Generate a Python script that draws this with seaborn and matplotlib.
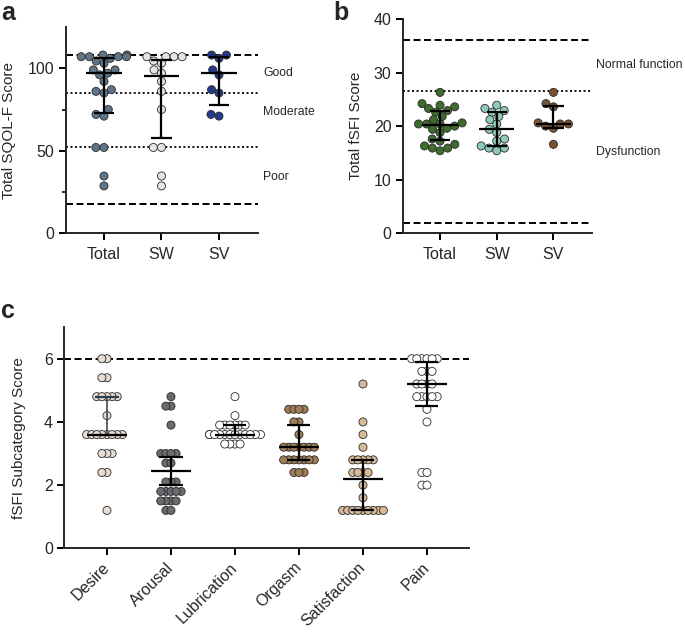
"""Prism-style scatter dot plots (median with IQR) of SQOL-F and fSFI scores."""

import matplotlib

matplotlib.use("Agg")
import matplotlib.pyplot as plt
import matplotlib.transforms as mtransforms
import numpy as np
import pandas as pd
import seaborn as sns

# ---------------- panel a: SQOL-F ----------------
groups = ["Total", "SW", "SV"]
sqol_total = [108, 108, 107, 107, 107, 107, 106, 104.4, 103, 99, 99, 97,
              96, 92, 87, 86, 85, 75, 72, 71, 52, 52, 34.7, 28.7]
sqol_sw = [107, 107, 107, 107, 104.4, 103, 99, 97, 92, 86, 75, 52, 52, 34.7, 28.7]
sqol_sv = [108, 108, 106, 99, 96, 87, 85, 72, 71]
sqol_median = [97, 95, 97]
sqol_q1 = [73, 58, 78]
sqol_q3 = [106, 105, 107]
sqol_colors = ["#5e7488", "#e4e4e0", "#26388c"]

# ---------------- panel b: total fSFI ----------------
fsfi_total = [26.3, 24.2, 23.9, 23.6, 23.3, 22.9, 22.6, 21.8, 21.2, 20.6, 20.4, 20.4,
              20.4, 20.0, 19.6, 19.4, 18.8, 17.6, 17.2, 16.6, 16.3, 15.9, 15.9, 15.4]
fsfi_sw = [23.9, 23.3, 22.9, 22.6, 21.8, 21.2, 20.4, 19.4, 18.8, 17.6, 17.2, 16.3,
           15.9, 15.9, 15.4]
fsfi_sv = [26.3, 24.2, 23.6, 20.6, 20.4, 20.4, 20.0, 19.6, 16.6]
fsfi_median = [20.3, 19.4, 20.4]
fsfi_q1 = [17.5, 16.3, 19.6]
fsfi_q3 = [22.8, 22.7, 23.7]
fsfi_colors = ["#3f6b2d", "#8ecbbd", "#7b5331"]

# ---------------- panel c: fSFI domains ----------------
domains = ["Desire", "Arousal", "Lubrication", "Orgasm", "Satisfaction", "Pain"]
desire = [6.0, 6.0, 5.4, 5.4, 4.8, 4.8, 4.8, 4.8, 4.8, 4.2, 3.6, 3.6, 3.6, 3.6,
          3.6, 3.6, 3.6, 3.6, 3.0, 3.0, 3.0, 2.4, 2.4, 1.2]
arousal = [4.8, 4.5, 4.5, 3.9, 3.0, 3.0, 3.0, 3.0, 2.7, 2.7, 2.1, 2.1, 2.1, 1.8,
           1.8, 1.8, 1.8, 1.8, 1.5, 1.5, 1.5, 1.5, 1.2, 1.2]
lubrication = [4.8, 4.2, 3.9, 3.9, 3.9, 3.9, 3.9, 3.9, 3.6, 3.6, 3.6, 3.6, 3.6,
               3.6, 3.6, 3.6, 3.6, 3.6, 3.6, 3.6, 3.3, 3.3, 3.3, 3.3]
orgasm = [4.4, 4.4, 4.4, 4.4, 4.0, 4.0, 3.6, 3.2, 3.2, 3.2, 3.2, 3.2, 3.2, 3.2,
          2.8, 2.8, 2.8, 2.8, 2.8, 2.8, 2.8, 2.4, 2.4, 2.4]
satisfaction = [5.2, 4.0, 3.6, 3.2, 2.8, 2.8, 2.8, 2.8, 2.8, 2.4, 2.4, 2.4, 2.4,
                2.0, 1.6, 1.2, 1.2, 1.2, 1.2, 1.2, 1.2, 1.2, 1.2, 1.2]
pain = [6.0, 6.0, 6.0, 6.0, 6.0, 6.0, 5.6, 5.6, 5.6, 5.2, 5.2, 5.2, 5.2, 4.8,
        4.8, 4.8, 4.8, 4.8, 4.4, 4.0, 2.4, 2.4, 2.0, 2.0]
domain_median = [3.6, 2.45, 3.6, 3.2, 2.2, 5.2]
domain_q1 = [3.6, 2.0, 3.6, 2.8, 1.2, 4.5]
domain_q3 = [4.8, 2.9, 3.9, 3.9, 2.8, 5.9]
domain_colors = ["#e7dcd1", "#6a6b6f", "#ffffff", "#9e7c56", "#d6ba97", "#ffffff"]
domain_bar_colors = ["#2e3d50", "black", "black", "black", "black", "black"]

MARKER = 5.8  # marker diameter in points

sns.set_style("ticks")
plt.rcParams["font.family"] = ["Liberation Sans", "DejaVu Sans"]
plt.rcParams["axes.linewidth"] = 1.4


def draw_panel(ax, cats, values, colors, med, q1, q3, layout, bar_colors=None):
    df = pd.DataFrame({
        "group": np.repeat(cats, [len(v) for v in values]),
        "score": np.concatenate(values),
    })
    # layout diameter may be smaller than the drawn one -> Prism-like overlap
    sns.swarmplot(data=df, x="group", y="score", hue="group", order=cats,
                  hue_order=cats, palette=colors, size=layout, edgecolor="#2a2a2a",
                  linewidth=0.6, legend=False, ax=ax, zorder=3, warn_thresh=1)
    bar_colors = bar_colors or ["black"] * len(cats)
    for i, cat in enumerate(cats):
        c = bar_colors[i]
        lw_v = 1.1 if c != "black" else 1.6
        ax.vlines(i, q1[i], q3[i], color=c, lw=lw_v, zorder=4)
        ax.hlines([q1[i], q3[i]], i - 0.18, i + 0.18, color=c, lw=1.6, zorder=4)
        ax.hlines(med[i], i - 0.31, i + 0.31, color="black", lw=1.6, zorder=4)
    ax.set_xlabel("")
    sns.despine(ax=ax)
    ax.tick_params(axis="both", length=5, width=1.4, labelsize=11.5, color="black")
    ax.tick_params(axis="x", pad=5)
    ax.tick_params(axis="y", pad=3)


def ref_line(ax, y, style):
    if style == "dash":
        ax.axhline(y, color="black", lw=1.4, ls=(0, (3.6, 1.8)), zorder=1)
    else:
        ax.axhline(y, color="black", lw=1.3, ls=(0, (1.1, 1.4)), zorder=1)


fig = plt.figure(figsize=(6.85, 6.32), dpi=100)
ax_a = fig.add_axes([0.0959, 0.6309, 0.2807, 0.3264])
ax_b = fig.add_axes([0.5879, 0.6309, 0.2759, 0.3391])
ax_c = fig.add_axes([0.0934, 0.1324, 0.5912, 0.3500])

# panel a
draw_panel(ax_a, groups, [sqol_total, sqol_sw, sqol_sv], sqol_colors,
           sqol_median, sqol_q1, sqol_q3, layout=5.0)
ax_a.set_ylim(0, 125)
ax_a.set_xlim(-0.666, 2.678)
ax_a.set_yticks([0, 50, 100])
ax_a.set_yticks([25, 75], minor=True)
ax_a.tick_params(axis="y", which="minor", length=3, width=1.4)
for y, st in [(108, "dash"), (18, "dash"), (85, "dot"), (52, "dot")]:
    ref_line(ax_a, y, st)
for y, t in [(97.3, "Good"), (73.3, "Moderate"), (34.3, "Poor")]:
    ax_a.text(1.028, y, t, transform=ax_a.get_yaxis_transform(), fontsize=8.8,
              va="center", ha="left")
ax_a.set_ylabel("Total SQOL-F Score", fontsize=11)
ax_a.yaxis.set_label_coords(-0.258, 0.5)

# panel b
draw_panel(ax_b, groups, [fsfi_total, fsfi_sw, fsfi_sv], fsfi_colors,
           fsfi_median, fsfi_q1, fsfi_q3, layout=5.0)
ax_b.set_ylim(0, 40)
ax_b.set_xlim(-0.658, 2.675)
ax_b.set_yticks([0, 10, 20, 30, 40])
for y, st in [(36, "dash"), (2, "dash"), (26.55, "dot")]:
    ref_line(ax_b, y, st)
for y, t in [(31.4, "Normal function"), (15.2, "Dysfunction")]:
    ax_b.text(1.023, y, t, transform=ax_b.get_yaxis_transform(), fontsize=8.8,
              va="center", ha="left")
ax_b.set_ylabel("Total fSFI Score", fontsize=11)
ax_b.yaxis.set_label_coords(-0.21, 0.5)

# panel c
draw_panel(ax_c, domains, [desire, arousal, lubrication, orgasm, satisfaction, pain],
           domain_colors, domain_median, domain_q1, domain_q3, layout=2.9,
           bar_colors=domain_bar_colors)
ax_c.set_ylim(0, 7)
ax_c.set_xlim(-0.672, 5.656)
ax_c.set_yticks([0, 2, 4, 6])
ref_line(ax_c, 6, "dash")
shift = mtransforms.ScaledTranslation(5 / 72, 0, fig.dpi_scale_trans)
for lab in ax_c.get_xticklabels():
    lab.set_rotation(45)
    lab.set_ha("right")
    lab.set_va("center")
    lab.set_rotation_mode("anchor")
    lab.set_transform(lab.get_transform() + shift)
ax_c.tick_params(axis="x", pad=7)
ax_c.set_ylabel("fSFI Subcategory Score", fontsize=11)
ax_c.yaxis.set_label_coords(-0.094, 0.5)

for x, y, t in [(0.002, 0.998, "a"), (0.487, 0.998, "b"), (0.002, 0.527, "c")]:
    fig.text(x, y, t, fontsize=18, fontweight="bold", va="top", ha="left")

# lay the swarms out, then freeze the positions and draw the dots at full size
fig.canvas.draw()
for ax in (ax_a, ax_b, ax_c):
    for coll in ax.collections:
        if "draw" in vars(coll):
            del coll.draw
            coll.set_sizes([MARKER ** 2])

fig.savefig("out.png", dpi=100)
